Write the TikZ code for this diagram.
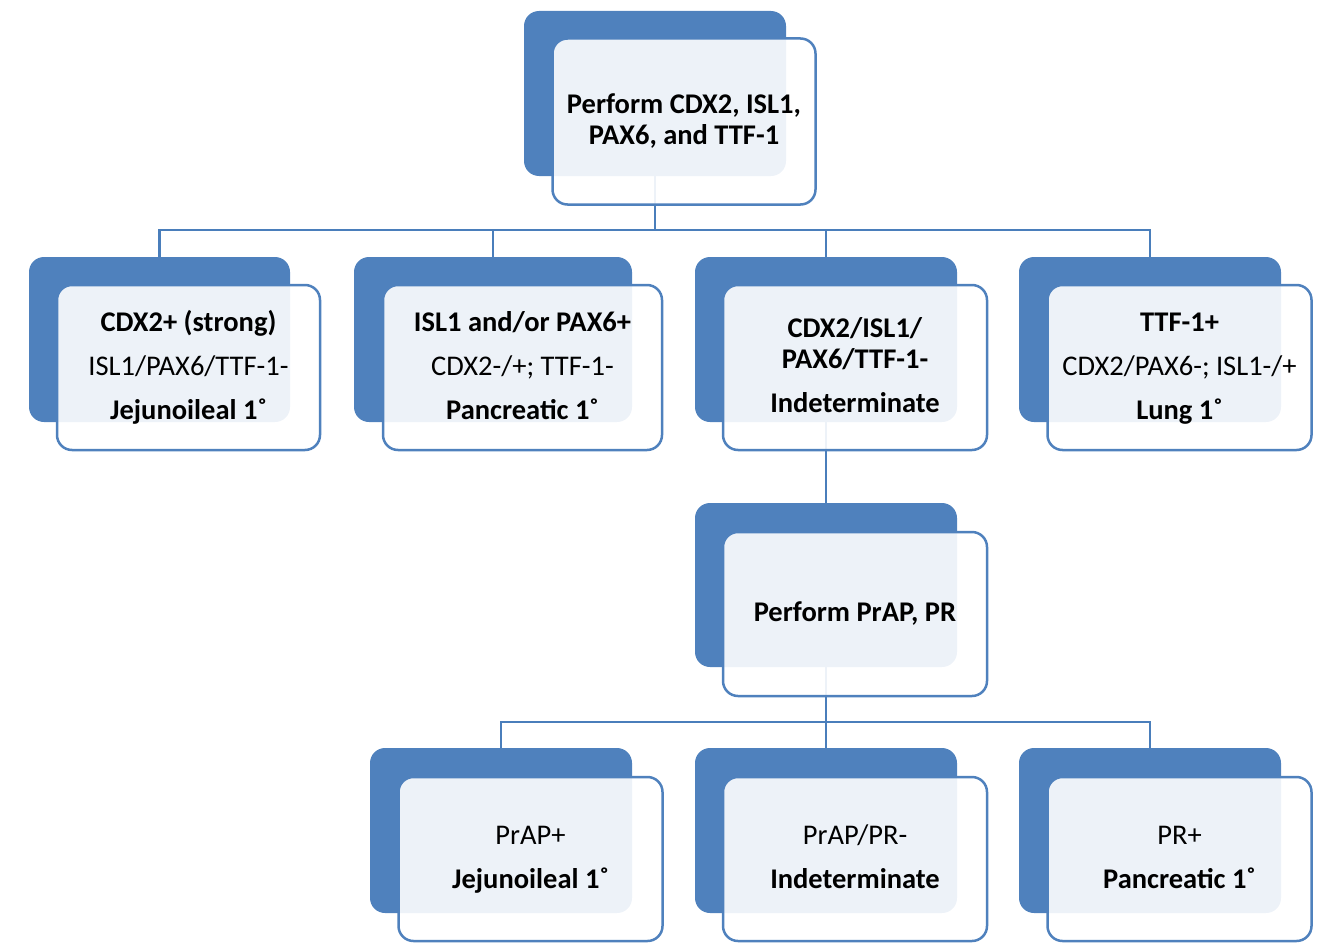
\documentclass[tikz,border=0pt]{standalone}
\usepackage{fontspec}
\setmainfont{Carlito}
\definecolor{accent}{HTML}{4F81BD}
\definecolor{linec}{HTML}{4A7EBB}
\newcommand\topstrut{\vphantom{(J}}
\newcommand\botstrut{\vphantom{gj}}
\tikzset{
  backbox/.style={rectangle, rounded corners=15pt, fill=accent, draw=none, inner sep=0pt},
  frontbox/.style={rectangle, rounded corners=15pt, fill=white, fill opacity=0.9, text opacity=1, draw=accent, line width=2.5pt, inner sep=0pt, align=center, font=\fontsize{28.5}{31}\selectfont},
  conn/.style={draw=linec, line width=2.7pt},
}
\begin{document}
\begin{tikzpicture}[x=1pt, y=-1pt]
\useasboundingbox (0,0) rectangle (1327,942);
\coordinate (j1) at (655,230);
\coordinate (j2) at (826,722);
% back boxes
\node[backbox, minimum width=262pt, minimum height=165pt] (tb) at (655,93.5) {};
\node[backbox, minimum width=261pt, minimum height=165pt] (n1b) at (159.5,339.5) {};
\node[backbox, minimum width=278pt, minimum height=165pt] (n2b) at (493,339.5) {};
\node[backbox, minimum width=262pt, minimum height=165pt] (n3b) at (826,339.5) {};
\node[backbox, minimum width=262pt, minimum height=165pt] (n4b) at (1150,339.5) {};
\node[backbox, minimum width=262pt, minimum height=164pt] (mb) at (826,585) {};
\node[backbox, minimum width=262pt, minimum height=165pt] (b1b) at (501,830.5) {};
\node[backbox, minimum width=262pt, minimum height=165pt] (b2b) at (826,830.5) {};
\node[backbox, minimum width=262pt, minimum height=165pt] (b3b) at (1150,830.5) {};
% connectors
\draw[conn] (tb.south) -- (j1);
\draw[conn] (j1) -| (n1b.north);
\draw[conn] (j1) -| (n2b.north);
\draw[conn] (j1) -| (n3b.north);
\draw[conn] (j1) -| (n4b.north);
\draw[conn] (n3b.south) -- (mb.north);
\draw[conn] (mb.south) -- (j2);
\draw[conn] (j2) -| (b1b.north);
\draw[conn] (j2) -| (b2b.north);
\draw[conn] (j2) -| (b3b.north);
% front boxes
\node[frontbox, minimum width=263pt, minimum height=166pt] (t) at (684,121.5)
  {\topstrut\textbf{Perform CDX2, ISL1,}\\\textbf{PAX6, and TTF-1}\botstrut};
\node[frontbox, minimum width=263pt, minimum height=165pt] (n1) at (188.5,367.5)
  {\topstrut\textbf{CDX2+ (strong)}\\[13pt]ISL1/PAX6/TTF-1-\\[13pt]\textbf{Jejunoileal 1˚}\botstrut};
\node[frontbox, minimum width=279pt, minimum height=165pt] (n2) at (522.5,367.5)
  {\topstrut\textbf{ISL1 and/or PAX6+}\\[13pt]CDX2-/+; TTF-1-\\[13pt]\textbf{Pancreatic 1˚}\botstrut};
\node[frontbox, minimum width=264pt, minimum height=165pt] (n3) at (855,367.5)
  {\topstrut\textbf{CDX2/ISL1/}\\\textbf{PAX6/TTF-1-}\\[13pt]\textbf{Indeterminate}\botstrut};
\node[frontbox, minimum width=264pt, minimum height=165pt] (n4) at (1179.5,367.5)
  {\topstrut\textbf{TTF-1+}\\[13pt]CDX2/PAX6-; ISL1-/+\\[13pt]\textbf{Lung 1˚}\botstrut};
\node[frontbox, minimum width=264pt, minimum height=164pt] (m) at (855,614)
  {\topstrut\textbf{Perform PrAP, PR}\botstrut};
\node[frontbox, minimum width=264pt, minimum height=164pt] (b1) at (530.5,859)
  {\topstrut PrAP+\\[13pt]\textbf{Jejunoileal 1˚}\botstrut};
\node[frontbox, minimum width=264pt, minimum height=164pt] (b2) at (855,859)
  {\topstrut PrAP/PR-\\[13pt]\textbf{Indeterminate}\botstrut};
\node[frontbox, minimum width=264pt, minimum height=164pt] (b3) at (1179.5,859)
  {\topstrut PR+\\[13pt]\textbf{Pancreatic 1˚}\botstrut};
\end{tikzpicture}
\end{document}
